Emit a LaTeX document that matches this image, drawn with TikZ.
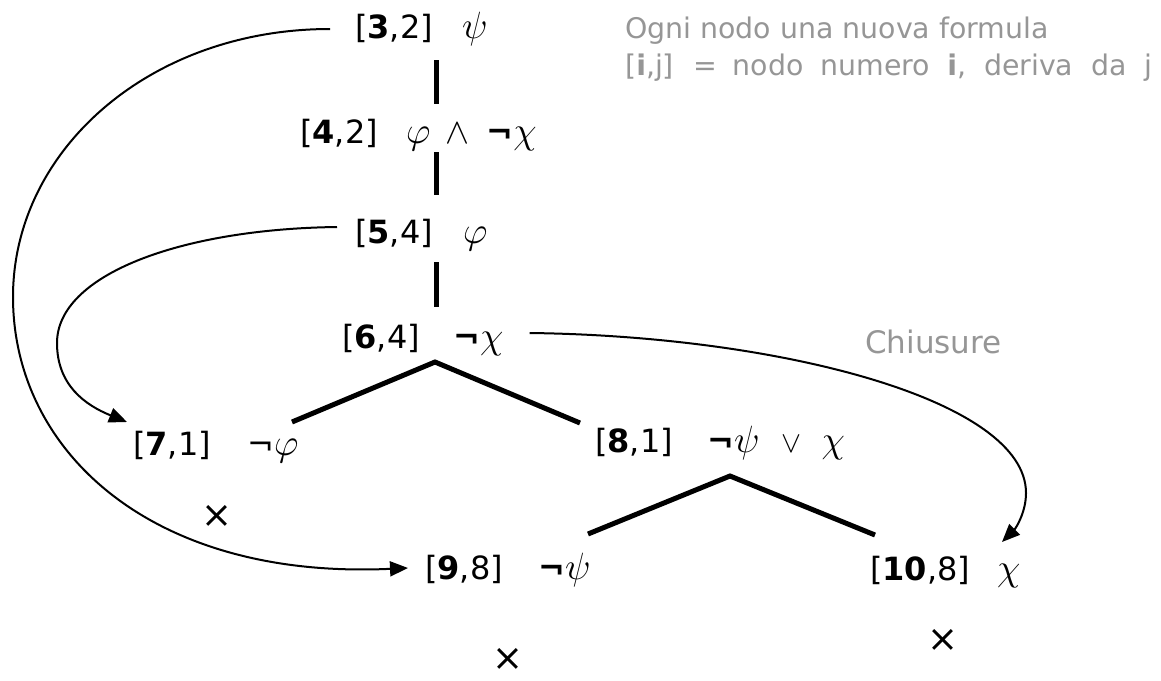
\RequirePackage{fix-cm}
\documentclass[tikz,border=0pt]{standalone}
\usepackage{fontspec}
\setmainfont{DejaVu Sans}
\usetikzlibrary{arrows.meta,calc}
\definecolor{notegray}{RGB}{150,150,150}
\newcommand{\gk}[1]{{\fontsize{38}{42}\selectfont$#1$}}
\newcommand{\opsym}[2]{{\fontsize{#1}{#1}\selectfont$#2$}}
\tikzset{
  lbl/.style={anchor=base west, inner sep=0pt, font=\fontsize{32}{38}\selectfont},
  frm/.style={anchor=base west, inner sep=0pt, font=\fontsize{32}{38}\selectfont},
  branch/.style={line width=5pt},
  link/.style={line width=2pt, -{Triangle[length=18pt,width=15pt]}},
  cross/.style={anchor=base, inner sep=0pt, font=\fontsize{37}{37}\selectfont},
  notetext/.style={anchor=base west, inner sep=0pt, text=notegray, font=\fontsize{28.4}{34}\selectfont},
}
\begin{document}
\begin{tikzpicture}[x=1pt,y=-1pt]
\useasboundingbox (0,0) rectangle (1161,680);

% labels
\node[lbl] (n3)  at (355,38)  {[\textbf{3},2]};
\node[lbl] (n4)  at (300,143) {[\textbf{4},2]};
\node[lbl] (n5)  at (355,243) {[\textbf{5},4]};
\node[lbl] (n6)  at (342,348) {[\textbf{6},4]};
\node[lbl] (n7)  at (133,455) {[\textbf{7},1]};
\node[lbl] (n8)  at (595,452) {[\textbf{8},1]};
\node[lbl] (n9)  at (425,579) {[\textbf{9},8]};
\node[lbl] (n10) at (870,580) {[\textbf{10},8]};

% formulas
\node[frm] (f3)  at (462,38)  {\gk{\psi}};
\node[frm] (f4)  at (406,143) {\gk{\varphi}\hspace{15pt}\opsym{36}{\wedge}\hspace{17pt}\textbf{¬}\gk{\chi}};
\node[frm] (f5)  at (463,243) {\gk{\varphi}};
\node[frm] (f6)  at (453,348) {\textbf{¬}\gk{\chi}};
\node[frm] (f7)  at (247,455) {¬\gk{\varphi}};
\node[frm] (f8)  at (707,452) {\textbf{¬}\gk{\psi}\hspace{22pt}\opsym{30}{\vee}\hspace{20pt}\gk{\chi}};
\node[frm] (f9)  at (538,579) {\textbf{¬}\gk{\psi}};
\node[frm] (f10) at (997,580) {\gk{\chi}};

% closures
\node[cross] (x7)  at (217,527) {×};
\node[cross] (x9)  at (508,670) {×};
\node[cross] (x10) at (943,651) {×};

% notes
\node[notetext] (note1) at (625,38) {Ogni nodo una nuova formula};
\node[notetext] (note2) at (625,75) {[\textbf{i},j]\hspace{10pt} =\hspace{7pt} nodo\hspace{8pt} numero\hspace{8pt} \textbf{i},\hspace{9pt} deriva\hspace{9pt} da\hspace{9pt} j};
\node[notetext, font=\fontsize{31}{36}\selectfont] (chius) at (865,353) {Chiusure};

% tree points
\coordinate (a3) at (436,60);
\coordinate (b4) at (436,104);
\coordinate (a4) at (436,152);
\coordinate (b5) at (436,195);
\coordinate (a5) at (436,262);
\coordinate (b6) at (436,307);
\coordinate (a6) at (435,362);
\coordinate (b7) at (292,422);
\coordinate (b8) at (580,423);
\coordinate (a8) at (730,476);
\coordinate (b9) at (588,534);
\coordinate (b10) at (875,535);

\draw[branch] (a3) -- (b4);
\draw[branch] (a4) -- (b5);
\draw[branch] (a5) -- (b6);
\draw[branch] (b7) -- (a6) -- (b8);
\draw[branch] (b9) -- (a8) -- (b10);

% links
\draw[link] ($(n3.base west)+(-25,-9)$) .. controls (150,29) and (13,150) .. (13,297)
            .. controls (13,450) and (150,580) .. ($(n9.base west)+(-17,-11)$);
\draw[link] ($(n5.base west)+(-18,-16)$) .. controls (180,229) and (57,275) .. (57,343)
            .. controls (57,385) and (85,405) .. ($(n7.base west)+(-6,-33)$);
\draw[link] ($(f6.base east)+(26,-15)$) .. controls (780,336) and (1026,400) .. (1026,493)
            .. controls (1026,512) and (1016,528) .. ($(f10.base west)+(5,-38)$);
\end{tikzpicture}
\end{document}
